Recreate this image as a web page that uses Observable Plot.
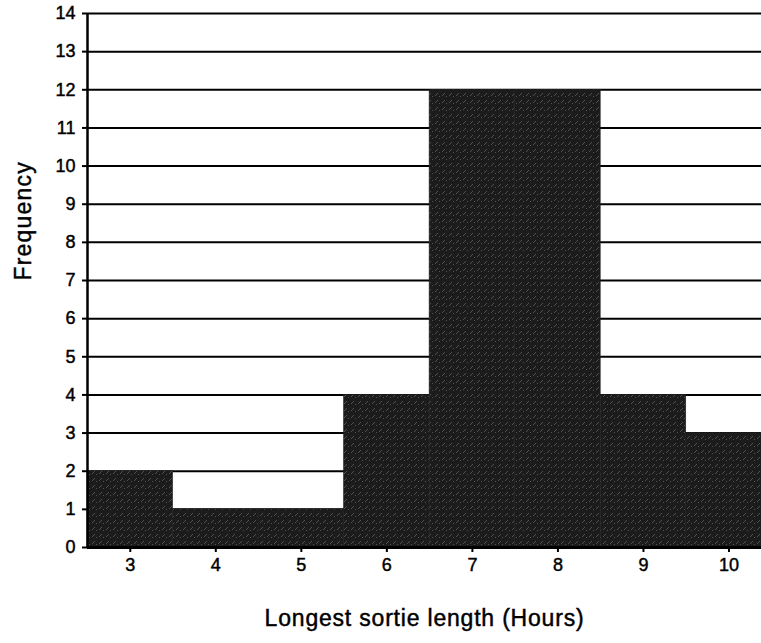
<!DOCTYPE html>
<html>
<head>
<meta charset="utf-8">
<script src="https://cdn.jsdelivr.net/npm/d3@7"></script>
<script src="https://cdn.jsdelivr.net/npm/@observablehq/plot@0.6"></script>
<style>
  html, body { margin: 0; padding: 0; background: #fff; }
  svg { display: block; }
</style>
</head>
<body>
<div id="chart"></div>
<script>
const hours = [3, 4, 5, 6, 7, 8, 9, 10];
const frequency = [2, 1, 1, 4, 12, 12, 4, 3];
const yTicks = [0, 1, 2, 3, 4, 5, 6, 7, 8, 9, 10, 11, 12, 13, 14];
const xTitle = "Longest sortie length (Hours)";
const yTitle = "Frequency";

const data = hours.map((h, i) => ({ h, f: frequency[i] }));

const chart = Plot.plot({
  width: 761,
  height: 643,
  marginLeft: 87,
  marginRight: 0,
  marginTop: 13,
  marginBottom: 96,
  style: { fontFamily: "'Liberation Sans', Arial, sans-serif", fontSize: "18px", color: "#000", background: "#fff" },
  x: { domain: [2.5, 10.38] },
  y: { domain: [0, 14] },
  marks: [
    Plot.ruleY(yTicks.slice(1), { stroke: "#000", strokeWidth: 2 }),
    Plot.rectY(data, { x1: d => d.h - 0.5, x2: d => d.h + 0.5, y1: 0, y2: "f", fill: "url(#scanTexture)", stroke: "#1e1e1e", strokeWidth: 0.6, inset: 0 }),
    Plot.ruleY([0], { stroke: "#000", strokeWidth: 3 }),
    Plot.ruleX([2.5], { stroke: "#000", strokeWidth: 2.5 }),
    Plot.axisX({ ticks: hours, tickFormat: d => String(d), tickSize: 5, tickPadding: 6, fontSize: 18, label: null, strokeWidth: 2 }),
    Plot.axisY({ ticks: yTicks, tickFormat: d => String(d), tickSize: 5, tickPadding: 7, fontSize: 18, label: null, strokeWidth: 2 }),
    Plot.text([yTitle], { frameAnchor: "left", dx: -64, rotate: -90, fontSize: 23, fill: "#000", className: "ttl-y" }),
    Plot.text([xTitle], { frameAnchor: "bottom", dy: 78, fontSize: 23, fill: "#000", className: "ttl-x" })
  ]
});

// texture pattern imitating the scanned fill (style only)
const ns = "http://www.w3.org/2000/svg";
const defs = document.createElementNS(ns, "defs");
const pat = document.createElementNS(ns, "pattern");
pat.setAttribute("id", "scanTexture");
pat.setAttribute("patternUnits", "userSpaceOnUse");
pat.setAttribute("width", "7");
pat.setAttribute("height", "7");
const bg = document.createElementNS(ns, "rect");
bg.setAttribute("width", "7"); bg.setAttribute("height", "7"); bg.setAttribute("fill", "#1c1c1c");
pat.appendChild(bg);
const ln = document.createElementNS(ns, "path");
ln.setAttribute("d", "M1,5 L4,2");
ln.setAttribute("stroke", "#8a8a8a"); ln.setAttribute("stroke-width", "0.8"); ln.setAttribute("stroke-opacity", "0.6");
pat.appendChild(ln);
const dot = document.createElementNS(ns, "rect");
dot.setAttribute("x", "5"); dot.setAttribute("y", "5"); dot.setAttribute("width", "1"); dot.setAttribute("height", "1");
dot.setAttribute("fill", "#777"); dot.setAttribute("fill-opacity", "0.6");
pat.appendChild(dot);
defs.appendChild(pat);
chart.insertBefore(defs, chart.firstChild);

// heavier glyphs like the scanned original
chart.querySelectorAll("text").forEach(t => {
  t.style.stroke = "#000";
  t.style.strokeWidth = "0.45px";
  t.style.fill = "#000";
  if (/^\d+$/.test(t.textContent.trim())) {
    t.style.fontSize = "18px";
  }
});
chart.querySelectorAll(".ttl-x text").forEach(t => { t.style.letterSpacing = "0.8px"; });
chart.querySelectorAll(".ttl-y text").forEach(t => { t.style.letterSpacing = "1.2px"; });

document.getElementById("chart").appendChild(chart);
</script>
</body>
</html>
